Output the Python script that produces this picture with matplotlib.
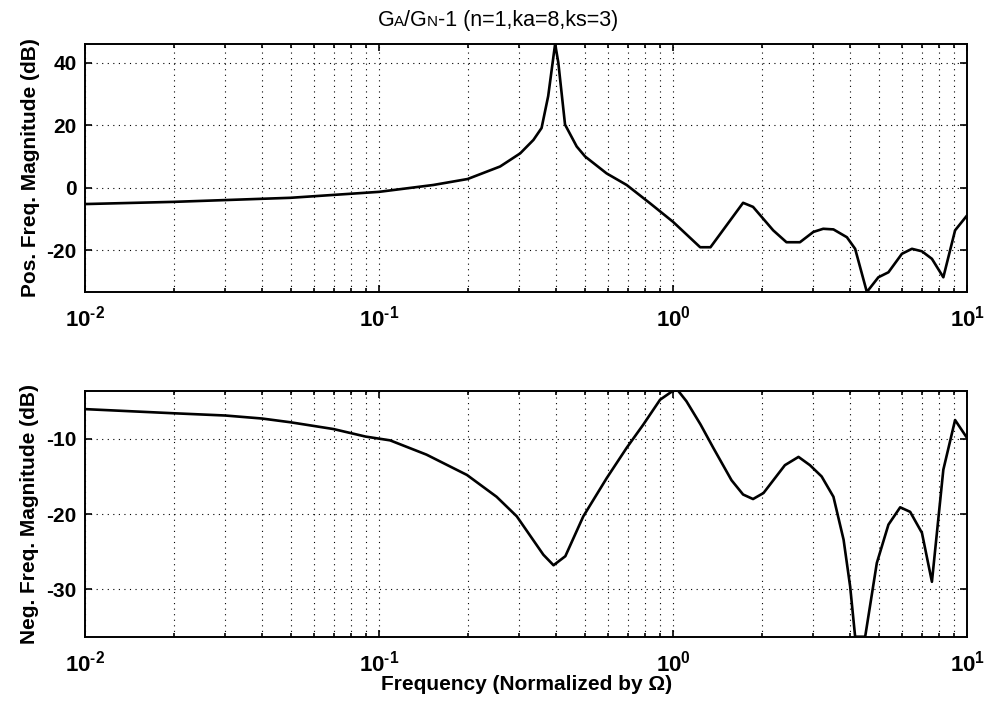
import matplotlib
matplotlib.use("Agg")
import matplotlib.pyplot as plt
from matplotlib.ticker import LogLocator, NullFormatter, FuncFormatter
import numpy as np

plt.rcParams['font.family'] = ['Liberation Sans', 'DejaVu Sans']
plt.rcParams['mathtext.fontset'] = 'custom'
plt.rcParams['mathtext.rm'] = 'Liberation Sans:bold'
plt.rcParams['mathtext.bf'] = 'Liberation Sans:bold'
plt.rcParams['mathtext.default'] = 'bf'
plt.rcParams['axes.unicode_minus'] = False

# positive frequency magnitude (dB)
pos_freq = [0.01, 0.02, 0.05, 0.1, 0.153, 0.2, 0.258, 0.302, 0.335, 0.357,
            0.376, 0.397, 0.407, 0.429, 0.47, 0.502, 0.594, 0.695, 0.836, 1.0,
            1.236, 1.34, 1.73, 1.87, 2.19, 2.43, 2.70, 3.0, 3.24, 3.51,
            3.90, 4.16, 4.56, 4.99, 5.40, 6.0, 6.49, 7.02, 7.59, 8.30,
            9.10, 10.0]
pos_mag = [-5.2, -4.5, -3.2, -1.3, 0.9, 2.8, 6.8, 11.0, 15.3, 19.1,
           29.3, 46.0, 40.0, 20.2, 13.2, 10.0, 4.6, 0.9, -5.0, -10.9,
           -19.0, -19.0, -4.8, -6.1, -13.6, -17.4, -17.4, -14.1, -13.1, -13.3,
           -15.8, -19.5, -33.3, -28.6, -27.0, -21.1, -19.5, -20.3, -22.7, -28.6,
           -13.6, -8.8]

# negative frequency magnitude (dB)
neg_freq = [0.01, 0.02, 0.03, 0.04, 0.05, 0.07, 0.09, 0.109, 0.145, 0.199,
            0.251, 0.294, 0.362, 0.392, 0.43, 0.495, 0.595, 0.695, 0.792, 0.903,
            1.0, 1.04, 1.11, 1.24, 1.37, 1.58, 1.73, 1.87, 2.03, 2.40,
            2.67, 2.92, 3.20, 3.51, 3.80, 4.0, 4.16, 4.50, 4.93, 5.40,
            5.92, 6.40, 7.02, 7.59, 8.30, 9.10, 10.0]
neg_mag = [-6.05, -6.6, -6.9, -7.3, -7.8, -8.7, -9.7, -10.2, -12.1, -14.8,
           -17.7, -20.3, -25.4, -26.8, -25.6, -20.3, -15.2, -11.2, -8.1, -4.8,
           -3.6, -3.6, -5.0, -8.1, -11.2, -15.5, -17.4, -18.0, -17.2, -13.5,
           -12.4, -13.5, -15.0, -17.7, -23.4, -29.6, -36.3, -36.3, -26.5, -21.4,
           -19.1, -19.7, -22.5, -29.0, -14.1, -7.5, -9.9]

pos_yticks = [-20, 0, 20, 40]
neg_yticks = [-30, -20, -10]


def decade_label(v, pos):
    e = int(round(np.log10(v)))
    if e < 0:
        return r'$\mathbf{10^{\text{-}%d}}$' % (-e)
    return r'$\mathbf{10^{%d}}$' % e


def style_axes(ax, yticks):
    ax.set_xscale('log')
    ax.set_xlim(0.01, 10)
    ax.set_yticks(yticks)
    ax.xaxis.set_major_locator(LogLocator(base=10, numticks=10))
    ax.xaxis.set_major_formatter(FuncFormatter(decade_label))
    ax.xaxis.set_minor_locator(LogLocator(base=10, subs=range(2, 10), numticks=100))
    ax.xaxis.set_minor_formatter(NullFormatter())
    ax.tick_params(which='both', direction='in', top=True, right=True, width=1.2)
    ax.tick_params(which='major', length=5)
    ax.tick_params(which='minor', length=3)
    ax.tick_params(axis='x', pad=10, labelsize=16)
    ax.tick_params(axis='y', pad=6, labelsize=15)
    for lab in ax.get_yticklabels():
        lab.set_fontweight('bold')
    ax.grid(True, which='major', axis='both', color='black',
            linestyle=(0, (1, 4)), linewidth=0.8)
    ax.grid(True, which='minor', axis='x', color='black',
            linestyle=(0, (1, 4)), linewidth=0.8)
    for sp in ax.spines.values():
        sp.set_linewidth(1.4)


fig = plt.figure(figsize=(9.9, 7.07), dpi=100)
ax1 = fig.add_axes([0.0859, 0.587, 0.891, 0.351])
ax2 = fig.add_axes([0.0859, 0.0994, 0.891, 0.348])

ax1.plot(pos_freq, pos_mag, color='black', linewidth=1.9)
style_axes(ax1, pos_yticks)
ax1.set_ylim(min(pos_mag), max(pos_mag))
ax1.set_ylabel('Pos. Freq. Magnitude (dB)', fontsize=15, fontweight='bold', labelpad=5)

ax2.plot(neg_freq, neg_mag, color='black', linewidth=1.9)
style_axes(ax2, neg_yticks)
ax2.set_ylim(min(neg_mag), max(neg_mag))
ax2.set_ylabel('Neg. Freq. Magnitude (dB)', fontsize=15, fontweight='bold', labelpad=5)
ax2.set_xlabel('Frequency (Normalized by \u03a9)', fontsize=15, fontweight='bold', labelpad=-1)

# title with small-cap letters, built piece by piece and centred
pieces = [('G', 15.5), ('A', 11), ('/G', 15.5), ('N', 11), ('-1 (n=1,ka=8,ks=3)', 15.5)]
texts = []
for s, size in pieces:
    texts.append(fig.text(0, 0.963, s, fontsize=size, va='baseline'))
renderer = fig.canvas.get_renderer()
widths = [t.get_window_extent(renderer).width for t in texts]
x0 = 498 - sum(widths) / 2
for t, w in zip(texts, widths):
    t.set_x(x0 / fig.bbox.width)
    x0 += w

fig.savefig('out.png', dpi=100)
